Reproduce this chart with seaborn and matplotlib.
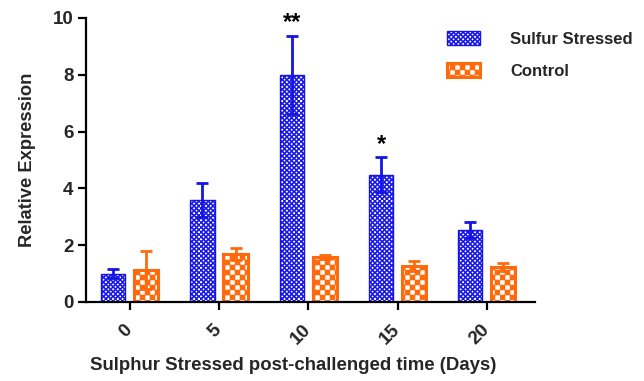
import numpy as np
import pandas as pd
import matplotlib
matplotlib.use("Agg")
import matplotlib.pyplot as plt
import matplotlib.hatch as mhatch
from matplotlib.path import Path
import seaborn as sns

# ---- data ----
days = ["0", "5", "10", "15", "20"]
groups = ["Sulfur Stressed", "Control"]
stressed = [1.0, 3.6, 8.0, 4.48, 2.54]
stressed_err = [0.17, 0.6, 1.37, 0.62, 0.28]
control = [1.13, 1.69, 1.58, 1.27, 1.23]
control_err = [0.67, 0.21, 0.08, 0.17, 0.14]
stars = ["", "", "**", "*", ""]
yticks = [0, 2, 4, 6, 8, 10]

blue = "#1414E6"
orange = "#FF6A0D"


# ---- checkerboard hatch ----
class CheckerHatch(mhatch.HatchPatternBase):
    def __init__(self, hatch, density):
        self.n = hatch.count("+") * 2
        self.num_vertices = (self.n * self.n // 2) * 5 if self.n else 0

    def set_vertices_and_codes(self, vertices, codes):
        n = self.n
        s = 1.0 / n
        sq = np.array([[0, 0], [s, 0], [s, s], [0, s], [0, 0]], dtype=float)
        parts = []
        for i in range(n):
            for j in range(n):
                if (i + j) % 2 == 0:
                    parts.append(sq + [i * s, j * s])
        vertices[:] = np.concatenate(parts)
        c = np.array([Path.MOVETO, Path.LINETO, Path.LINETO, Path.LINETO,
                      Path.CLOSEPOLY], dtype=Path.code_type)
        codes[:] = np.tile(c, len(parts))


mhatch._hatch_types[:] = [CheckerHatch]

sns.set_style("white")
plt.rcParams["font.family"] = ["Liberation Sans", "DejaVu Sans"]
plt.rcParams["font.weight"] = "bold"
plt.rcParams["hatch.linewidth"] = 0.4

df = pd.DataFrame({
    "day": days * 2,
    "group": [groups[0]] * len(days) + [groups[1]] * len(days),
    "value": stressed + control,
})

fig = plt.figure(figsize=(6.44, 3.81), dpi=100)
ax = fig.add_axes([86 / 644, 1 - 302 / 381, (535 - 86) / 644, (302 - 18) / 381])

sns.barplot(data=df, x="day", y="value", hue="group", order=days,
            hue_order=groups, palette={groups[0]: blue, groups[1]: orange},
            width=0.74, gap=0.27, ax=ax, legend=False, errorbar=None)

bar_containers = list(ax.containers)
styles = [
    dict(face="white", edge=blue, hatch="+" * 21, lw=1.0),
    dict(face="white", edge=orange, hatch="+" * 10, lw=2.2),
]
errs = [stressed_err, control_err]
vals = [stressed, control]
colors = [blue, orange]
for k, cont in enumerate(bar_containers):
    st = styles[k]
    for p in cont:
        p.set_facecolor(st["face"])
        p.set_edgecolor(st["edge"])
        p.set_hatch(st["hatch"])
        p.set_linewidth(st["lw"])
    xs = [p.get_x() + p.get_width() / 2 for p in cont]
    ax.errorbar(xs, vals[k], yerr=errs[k], fmt="none", ecolor=colors[k],
                elinewidth=2.0, capsize=4.6, capthick=2.0, zorder=4)
    if k == 0:
        for x, v, e, s in zip(xs, vals[k], errs[k], stars):
            if s:
                ax.text(x, v + e + 0.05, s, ha="center", va="bottom",
                        fontsize=17, fontweight="bold", color="black")

ax.set_ylim(0, 10)
ax.set_yticks(yticks)
ax.set_xlim(-0.49, 4.54)
for side in ["top", "right"]:
    ax.spines[side].set_visible(False)
for side in ["left", "bottom"]:
    ax.spines[side].set_linewidth(1.6)
    ax.spines[side].set_color("black")
ax.tick_params(axis="both", which="major", direction="out", length=6,
               width=1.6, color="black", labelsize=13.5, pad=3,
               left=True, bottom=True)
ax.tick_params(axis="x", pad=12)
for lab in ax.get_xticklabels():
    lab.set_rotation(45)
    lab.set_ha("right")
    lab.set_va("center")
    lab.set_rotation_mode("anchor")
    lab.set_fontweight("bold")
for lab in ax.get_yticklabels():
    lab.set_fontweight("bold")

ax.set_xlabel("Sulphur Stressed post-challenged time (Days)", fontsize=13.4,
              fontweight="bold")
ax.xaxis.set_label_coords(0.461, -0.194)
ax.set_ylabel("Relative Expression", fontsize=13.2, fontweight="bold",
              labelpad=12)

handles = [bar_containers[0][0], bar_containers[1][0]]
leg = fig.legend(handles, groups, loc="upper left",
                 bbox_to_anchor=(447 / 644, 1 - 31 / 381), frameon=False,
                 fontsize=12, handlelength=2.0, handleheight=0.95,
                 handletextpad=1.8, labelspacing=0.95, borderpad=0,
                 borderaxespad=0)
for t in leg.get_texts():
    t.set_fontweight("bold")

fig.savefig("out.png", dpi=100)
